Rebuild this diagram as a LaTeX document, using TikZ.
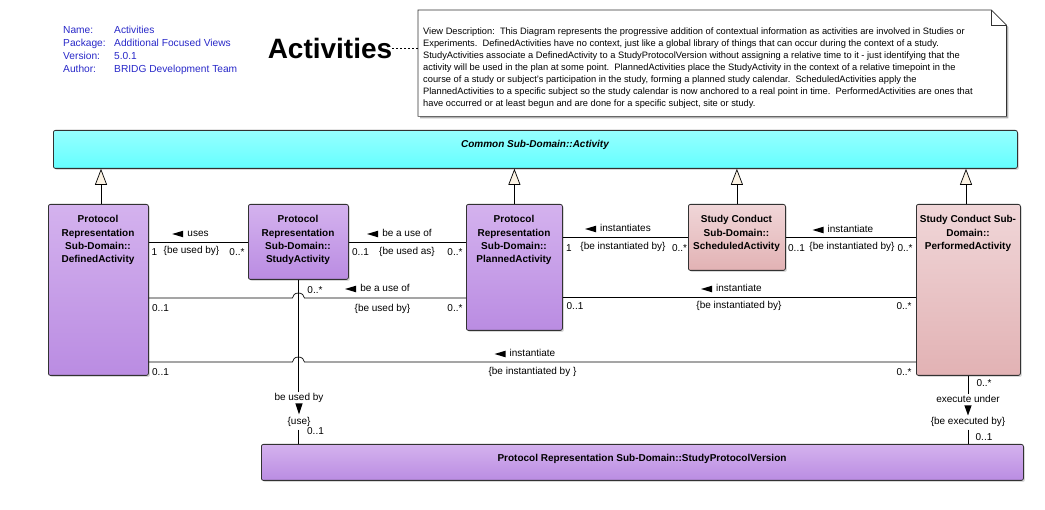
\documentclass[tikz,border=0pt]{standalone}
\usepackage{fontspec}
\setmainfont{Liberation Sans}
\usetikzlibrary{arrows.meta,shadows,calc}
\definecolor{hdrblue}{RGB}{40,40,200}
\definecolor{cyanT}{RGB}{150,255,255}
\definecolor{cyanB}{RGB}{100,255,255}
\definecolor{purT}{RGB}{212,178,238}
\definecolor{purB}{RGB}{186,140,226}
\definecolor{pinkT}{RGB}{240,214,216}
\definecolor{pinkB}{RGB}{226,178,180}
\definecolor{cream}{RGB}{252,243,228}
\definecolor{edge}{RGB}{50,50,50}
\newcommand\lefttri[1]{\fill ($(#1.west)+(-15,0)$) -- ++(11,-3.3) -- ++(0,6.6) -- cycle;}
\begin{document}
\begin{tikzpicture}[x=1pt,y=-1pt,
  cls/.style={draw=edge, line width=0.8pt, rounded corners=2pt, inner sep=0pt, anchor=north west,
    drop shadow={shadow xshift=1.5pt, shadow yshift=-1.5pt, opacity=0.3}},
  purplebox/.style={cls, top color=purT, bottom color=purB},
  pinkbox/.style={cls, top color=pinkT, bottom color=pinkB},
  cyanbox/.style={cls, top color=cyanT, bottom color=cyanB},
  boxtxt/.style={font=\bfseries\fontsize{10}{13.3}\selectfont, align=center, inner sep=0pt, anchor=north},
  lbl/.style={font=\fontsize{10}{12}\selectfont, inner sep=0pt, text height=7pt, text depth=2pt},
  hdr/.style={font=\fontsize{10.2}{12}\selectfont, text=hdrblue, inner sep=0pt, anchor=west, text height=7pt, text depth=2pt},
  assoc/.style={draw=black, line width=0.7pt},
  gen/.style={draw=black, line width=0.7pt, -{Triangle[length=16pt,width=12pt,fill=cream]}},
]
\useasboundingbox (0,0) rectangle (1045,510);

% header
\node[hdr] (h1) at (63,31) {Name:};
\node[hdr] (h2) at (63,44) {Package:};
\node[hdr] (h3) at (63,57) {Version:};
\node[hdr] (h4) at (63,70) {Author:};
\node[hdr] (v1) at (114,31) {Activities};
\node[hdr] (v2) at (114,44) {Additional Focused Views};
\node[hdr] (v3) at (114,57) {5.0.1};
\node[hdr] (v4) at (114,70) {BRIDG Development Team};
\node[font=\bfseries\fontsize{28}{30}\selectfont, inner sep=0pt] (title) at (330,48) {Activities};

% note
\node[anchor=north west, minimum width=588pt, minimum height=106pt, inner sep=0pt] (note) at (418,10) {};
\fill[black, opacity=0.3] ($(note.north west)+(2,2)$) -- ($(note.north east)+(-13,2)$) -- ($(note.north east)+(2,17)$) -- ($(note.south east)+(2,2)$) -- ($(note.south west)+(2,2)$) -- cycle;
\filldraw[fill=white, draw=edge, line width=0.7pt] (note.north west) -- ($(note.north east)+(-15,0)$) -- ($(note.north east)+(0,15)$) -- (note.south east) -- (note.south west) -- cycle;
\draw[edge, line width=0.7pt] ($(note.north east)+(-15,0)$) -- ($(note.north east)+(-15,15)$) -- ($(note.north east)+(0,15)$);
\node[anchor=north west, align=left, inner sep=0pt, font=\fontsize{9.3}{12}\selectfont] (notetxt) at (423,27.3) {%
View Description:\ \ This Diagram represents the progressive addition of contextual information as activities are involved in Studies or\\
Experiments.\ \ DefinedActivities have no context, just like a global library of things that can occur during the context of a study.\\
StudyActivities associate a DefinedActivity to a StudyProtocolVersion without assigning a relative time to it - just identifying that the\\
activity will be used in the plan at some point.\ \ PlannedActivities place the StudyActivity in the context of a relative timepoint in the\\
course of a study or subject's participation in the study, forming a planned study calendar.\ \ ScheduledActivities apply the\\
PlannedActivities to a specific subject so the study calendar is now anchored to a real point in time.\ \ PerformedActivities are ones that\\
have occurred or at least begun and are done for a specific subject, site or study.};
\draw[dash pattern=on 2pt off 2pt, line width=0.6pt] (title.east) -- (note.west |- title.east);

% classes
\node[cyanbox, minimum width=964pt, minimum height=38pt] (act) at (53,130) {};
\node[font=\bfseries\itshape\fontsize{10}{12}\selectfont, inner sep=0pt] (actT) at (535,145) {Common Sub-Domain::Activity};

\node[purplebox, minimum width=100pt, minimum height=171pt] (def) at (48,204) {};
\node[boxtxt] (defT) at (98,215.5) {Protocol\\Representation\\Sub-Domain::\\DefinedActivity};
\node[purplebox, minimum width=100pt, minimum height=75pt] (study) at (248,204) {};
\node[boxtxt] (studyT) at (298,215.5) {Protocol\\Representation\\Sub-Domain::\\StudyActivity};
\node[purplebox, minimum width=96pt, minimum height=126pt] (plan) at (466,204) {};
\node[boxtxt] (planT) at (514,215.5) {Protocol\\Representation\\Sub-Domain::\\PlannedActivity};
\node[pinkbox, minimum width=97pt, minimum height=66pt] (sched) at (688,204) {};
\node[boxtxt] (schedT) at (736.5,215.5) {Study Conduct\\Sub-Domain::\\ScheduledActivity};
\node[pinkbox, minimum width=104pt, minimum height=171pt] (perf) at (916,204) {};
\node[boxtxt] (perfT) at (968,215.5) {Study Conduct Sub-\\Domain::\\PerformedActivity};
\node[purplebox, minimum width=762pt, minimum height=36pt] (spv) at (261,444) {};
\node[font=\bfseries\fontsize{10}{12}\selectfont, inner sep=0pt] (spvT) at (642,459) {Protocol Representation Sub-Domain::StudyProtocolVersion};

% generalizations
\draw[gen] (def.north -| 101,0) -- (act.south -| 101,0);
\draw[gen] (plan.north) -- (act.south -| plan.north);
\draw[gen] (sched.north) -- (act.south -| sched.north);
\draw[gen] (perf.north -| 966,0) -- (act.south -| 966,0);

% associations
\draw[assoc] (def.east |- 0,242) -- (study.west |- 0,242);
\draw[assoc] (study.east |- 0,242) -- (plan.west |- 0,242);
\draw[assoc] (plan.east |- 0,237) -- (sched.west |- 0,237);
\draw[assoc] (sched.east |- 0,237) -- (perf.west |- 0,237);
\draw[assoc] (def.east |- 0,298) -- ($(study.south |- 0,298)+(-6,0)$) arc[start angle=180, end angle=360, x radius=6, y radius=5] -- (plan.west |- 0,298);
\draw[assoc] (plan.east |- 0,297) -- (perf.west |- 0,297);
\draw[assoc] (def.east |- 0,362) -- ($(study.south |- 0,362)+(-6,0)$) arc[start angle=180, end angle=360, x radius=6, y radius=5] -- (perf.west |- 0,362);

% labels: Defined - Study
\node[lbl] (a1) at (198,234) {uses}; \lefttri{a1}
\node[lbl] (a2) at (191.5,251) {\{be used by\}};
\node[lbl] (a3) at (154.5,253) {1};
\node[lbl] (a4) at (237,253) {0..*};
% Study - Planned
\node[lbl] (b1) at (407,234) {be a use of}; \lefttri{b1}
\node[lbl] (b2) at (407,252) {\{be used as\}};
\node[lbl] (b3) at (360.5,253) {0..1};
\node[lbl] (b4) at (455,253) {0..*};
% Planned - Scheduled
\node[lbl] (c1) at (625.5,229) {instantiates}; \lefttri{c1}
\node[lbl] (c2) at (623,247) {\{be instantiated by\}};
\node[lbl] (c3) at (569,249) {1};
\node[lbl] (c4) at (679.5,249) {0..*};
% Scheduled - Performed
\node[lbl] (d1) at (850.5,230) {instantiate}; \lefttri{d1}
\node[lbl] (d2) at (852,247) {\{be instantiated by\}};
\node[lbl] (d3) at (796.5,249) {0..1};
\node[lbl] (d4) at (905,249) {0..*};
% Defined - Planned
\node[lbl] (e1) at (385,289) {be a use of}; \lefttri{e1}
\node[lbl] (e2) at (382.5,309) {\{be used by\}};
\node[lbl] (e3) at (160.5,309) {0..1};
\node[lbl] (e4) at (455,309) {0..*};
% Planned - Performed
\node[lbl] (f1) at (739,289) {instantiate}; \lefttri{f1}
\node[lbl] (f2) at (739,306) {\{be instantiated by\}};
\node[lbl] (f3) at (575,307) {0..1};
\node[lbl] (f4) at (904,307) {0..*};
% Defined - Performed
\node[lbl] (g1) at (532.5,354) {instantiate}; \lefttri{g1}
\node[lbl] (g2) at (532.5,372) {\{be instantiated by \}};
\node[lbl] (g3) at (160.5,373) {0..1};
\node[lbl] (g4) at (904,373) {0..*};
% Study - StudyProtocolVersion
\node[lbl] (k0) at (315,291) {0..*};
\node[lbl] (k1) at (299,398) {be used by};
\fill (299,414.5) -- ++(-3.6,-11) -- ++(7.2,0) -- cycle;
\node[lbl] (k2) at (299,422) {\{use\}};
\node[lbl] (k3) at (315.5,432) {0..1};
\draw[assoc] (study.south) -- ($(study.south |- k1.north)+(0,-1)$);
\draw[assoc] ($(study.south |- k2.south)+(0,3)$) -- (study.south |- spv.north);
% Performed - StudyProtocolVersion
\node[lbl] (m0) at (984,384) {0..*};
\node[lbl] (m1) at (968,400) {execute under};
\fill (968,415.5) -- ++(-3.6,-10) -- ++(7.2,0) -- cycle;
\node[lbl] (m2) at (968,422) {\{be executed by\}};
\node[lbl] (m3) at (984,438) {0..1};
\draw[assoc] (perf.south) -- ($(perf.south |- m1.north)+(0,-1)$);
\draw[assoc] ($(perf.south |- m2.south)+(0,3)$) -- (perf.south |- spv.north);
\end{tikzpicture}
\end{document}
